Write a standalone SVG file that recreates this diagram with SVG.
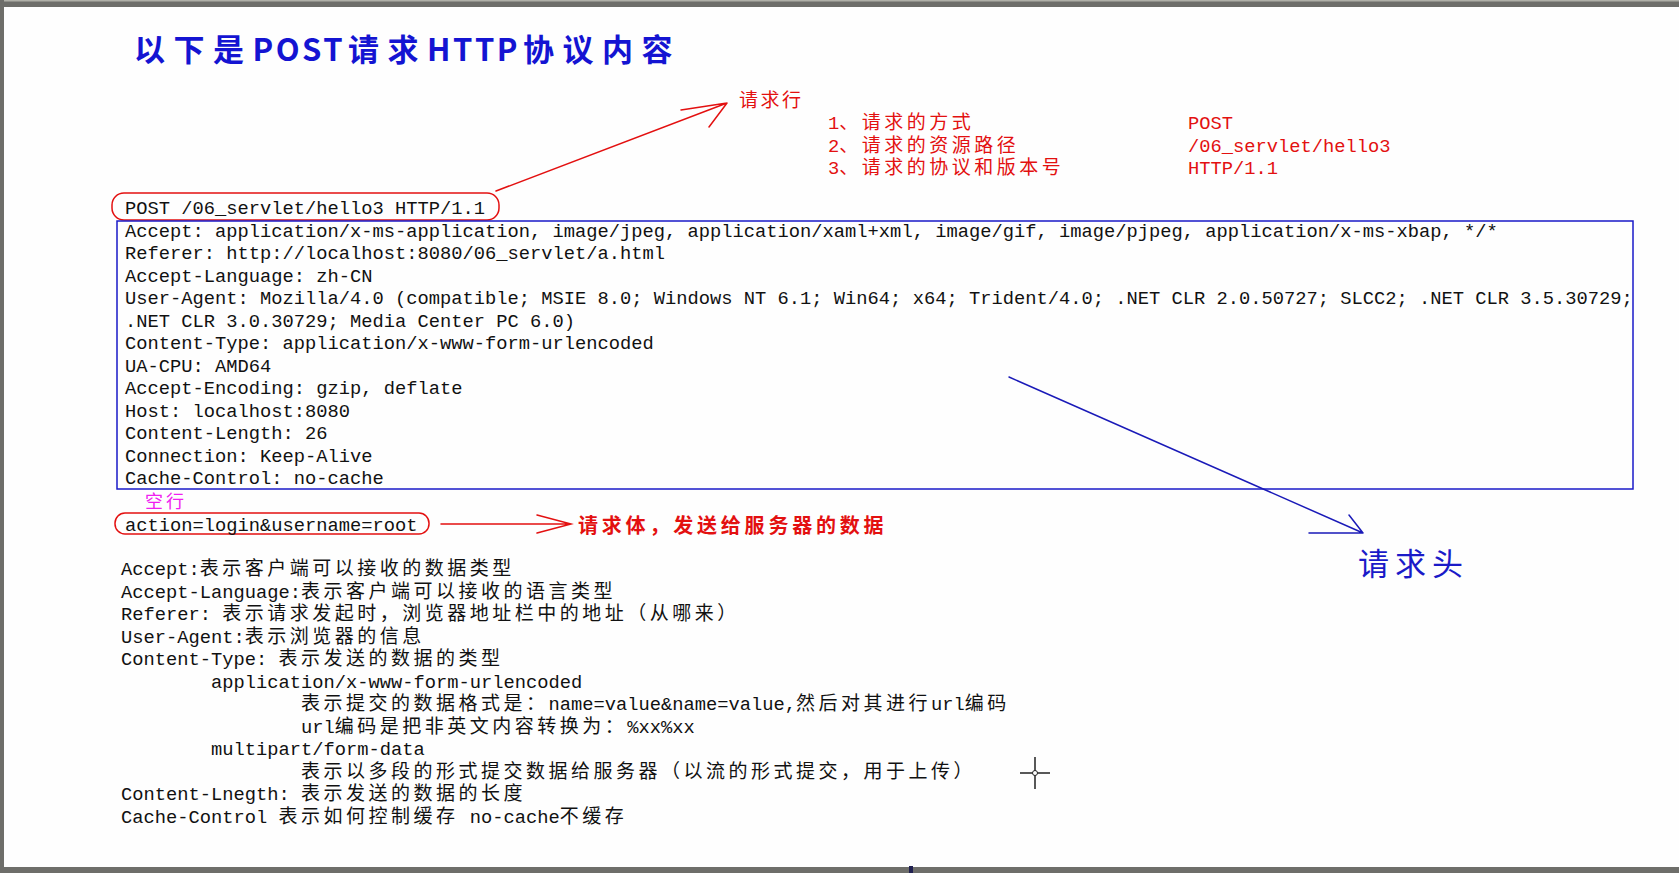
<svg xmlns="http://www.w3.org/2000/svg" width="1679" height="873" viewBox="0 0 1679 873">
<defs>
<style>
.m{font-family:"Liberation Mono","DejaVu Sans Mono",monospace;font-size:18.75px;fill:#111}
.c{font-family:"Noto Sans CJK SC","Noto Sans CJK JP",sans-serif;font-size:19px;letter-spacing:3.5px}
.red{fill:#e31010}
.blk{fill:#111}
.title{font-family:"Noto Sans CJK SC",sans-serif;font-size:31px;font-weight:bold;fill:#1414d2}
.tc{letter-spacing:8.5px}
.tl{letter-spacing:2.5px}
.lnR{stroke:#e31010;stroke-width:1.5;fill:none;stroke-linecap:round}
.lnB{stroke:#1a1ab8;stroke-width:1.5;fill:none;stroke-linecap:round}
</style>
</defs>
<rect x="0" y="0" width="1679" height="873" fill="#fefefe"/>
<g id="frame">
<rect x="0" y="0" width="1679" height="7" fill="#6e6e6a"/>
<rect x="0" y="0" width="1679" height="1.5" fill="#b0b0a8"/>
<rect x="0" y="0" width="4" height="873" fill="#6e6e6a"/>
<rect x="0" y="867" width="1679" height="6" fill="#6e6e6a"/>
<rect x="909" y="866" width="4" height="7" fill="#202050"/>
</g>
<g id="title">
<text class="title" x="134" y="61"><tspan class="tc">以下是</tspan><tspan class="tl">POST</tspan><tspan class="tc" dx="3">请求</tspan><tspan class="tl">HTTP</tspan><tspan class="tc" dx="3">协议内容</tspan></text>
</g>
<g id="request-line-label">
<text class="c red" x="739" y="107" style="letter-spacing:2.5px">请求行</text>
</g>
<g id="request-line-parts">
<text class="m red" x="828" y="129"><tspan>1</tspan><tspan class="c red">、请求的方式</tspan></text>
<text class="m red" x="828" y="151.5"><tspan>2</tspan><tspan class="c red">、请求的资源路径</tspan></text>
<text class="m red" x="828" y="174"><tspan>3</tspan><tspan class="c red">、请求的协议和版本号</tspan></text>
<text class="m red" x="1188" y="129">POST</text>
<text class="m red" x="1188" y="151.5">/06_servlet/hello3</text>
<text class="m red" x="1188" y="174">HTTP/1.1</text>
</g>
<g id="request-line">
<rect x="112" y="193" width="387" height="27" rx="12" class="lnR"/>
<text class="m" x="125" y="214">POST /06_servlet/hello3 HTTP/1.1</text>
</g>
<g id="request-headers">
<rect x="117" y="221" width="1516" height="268" fill="none" stroke="#1a1ac8" stroke-width="1.5"/>
<text class="m" x="125" y="236.5">Accept: application/x-ms-application, image/jpeg, application/xaml+xml, image/gif, image/pjpeg, application/x-ms-xbap, */*</text>
<text class="m" x="125" y="259">Referer: http://localhost:8080/06_servlet/a.html</text>
<text class="m" x="125" y="281.5">Accept-Language: zh-CN</text>
<text class="m" x="125" y="304">User-Agent: Mozilla/4.0 (compatible; MSIE 8.0; Windows NT 6.1; Win64; x64; Trident/4.0; .NET CLR 2.0.50727; SLCC2; .NET CLR 3.5.30729;</text>
<text class="m" x="125" y="326.5">.NET CLR 3.0.30729; Media Center PC 6.0)</text>
<text class="m" x="125" y="349">Content-Type: application/x-www-form-urlencoded</text>
<text class="m" x="125" y="371.5">UA-CPU: AMD64</text>
<text class="m" x="125" y="394">Accept-Encoding: gzip, deflate</text>
<text class="m" x="125" y="416.5">Host: localhost:8080</text>
<text class="m" x="125" y="439">Content-Length: 26</text>
<text class="m" x="125" y="461.5">Connection: Keep-Alive</text>
<text class="m" x="125" y="484">Cache-Control: no-cache</text>
</g>
<g id="request-header-label">
<text x="1358" y="575" style="font-family:'Noto Sans CJK SC',sans-serif;font-size:31px;letter-spacing:6px;fill:#1a1ac8">请求头</text>
</g>
<g id="blank-line-label">
<text class="c" x="145" y="508" style="fill:#f020f0;font-size:18px;letter-spacing:3px">空行</text>
</g>
<g id="request-body">
<rect x="115" y="513" width="314" height="21" rx="10" class="lnR"/>
<text class="m" x="125" y="530.5">action=login&amp;username=root</text>
</g>
<g id="request-body-label">
<text class="c red" x="578" y="533" style="font-size:20px;font-weight:bold;letter-spacing:3.8px">请求体，发送给服务器的数据</text>
</g>
<g id="connectors">
<path class="lnR" d="M496,191 L727,103 M727,103 L681,110 M727,103 L709,127"/>
<path class="lnR" d="M441,524 L571,524 M537,515 L571,524 L537,533"/>
<path class="lnB" d="M1009,377 L1363,533 M1363,533 L1309,533 M1363,533 L1349,515"/>
</g>
<g id="notes">
<text class="m" x="121" y="575"><tspan>Accept:</tspan><tspan class="c blk">表示客户端可以接收的数据类型</tspan></text>
<text class="m" x="121" y="597.5"><tspan>Accept-Language:</tspan><tspan class="c blk">表示客户端可以接收的语言类型</tspan></text>
<text class="m" x="121" y="620" style="white-space:pre"><tspan>Referer: </tspan><tspan class="c blk">表示请求发起时，浏览器地址栏中的地址（从哪来）</tspan></text>
<text class="m" x="121" y="642.5"><tspan>User-Agent:</tspan><tspan class="c blk">表示浏览器的信息</tspan></text>
<text class="m" x="121" y="665" style="white-space:pre"><tspan>Content-Type: </tspan><tspan class="c blk">表示发送的数据的类型</tspan></text>
<text class="m" x="211" y="687.5">application/x-www-form-urlencoded</text>
<text class="m" x="301" y="710"><tspan class="c blk">表示提交的数据格式是：</tspan><tspan>name=value&amp;name=value,</tspan><tspan class="c blk">然后对其进行</tspan><tspan>url</tspan><tspan class="c blk">编码</tspan></text>
<text class="m" x="301" y="732.5"><tspan>url</tspan><tspan class="c blk">编码是把非英文内容转换为：</tspan><tspan>%xx%xx</tspan></text>
<text class="m" x="211" y="755">multipart/form-data</text>
<text class="m" x="301" y="777.5"><tspan class="c blk">表示以多段的形式提交数据给服务器（以流的形式提交，用于上传）</tspan></text>
<text class="m" x="121" y="800" style="white-space:pre"><tspan>Content-Lnegth: </tspan><tspan class="c blk">表示发送的数据的长度</tspan></text>
<text class="m" x="121" y="822.5" style="white-space:pre"><tspan>Cache-Control </tspan><tspan class="c blk">表示如何控制缓存</tspan><tspan> no-cache</tspan><tspan class="c blk">不缓存</tspan></text>
</g>
<g id="cursor">
<path d="M1020,773 L1050,773 M1035,757 L1035,789" stroke="#222" stroke-width="1.5" fill="none"/>
<circle cx="1035" cy="773" r="2.5" fill="#fff" stroke="#222" stroke-width="1"/>
</g>
</svg>
